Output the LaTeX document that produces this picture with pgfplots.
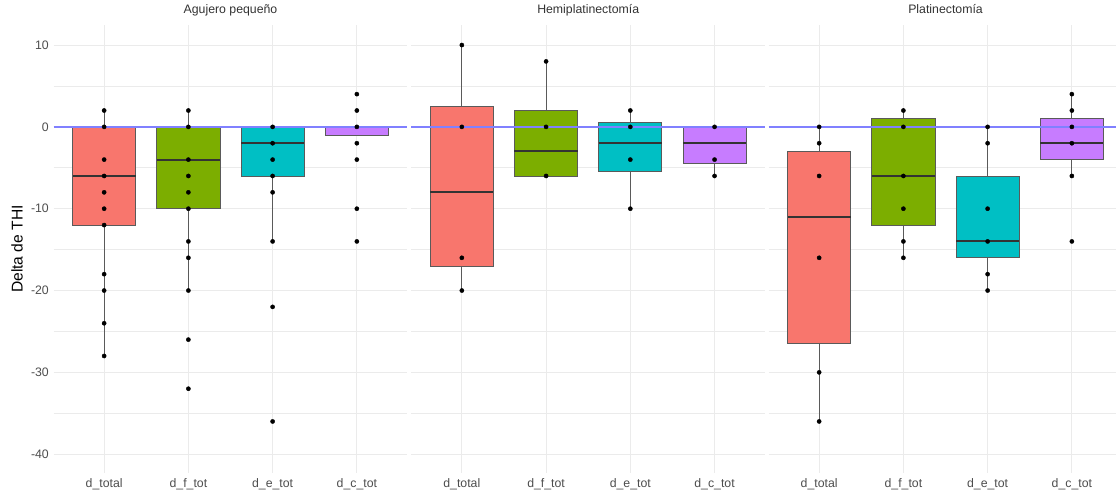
\documentclass[border=0pt]{standalone}
\usepackage{fontspec}
\setmainfont{Liberation Sans}
\usepackage{pgfplots}
\pgfplotsset{compat=1.18}
\usepgfplotslibrary{statistics}
\definecolor{cR}{HTML}{F8766D}
\definecolor{cG}{HTML}{7CAE00}
\definecolor{cC}{HTML}{00BFC4}
\definecolor{cP}{HTML}{C77CFF}
\definecolor{gridc}{HTML}{EBEBEB}
\definecolor{tickc}{HTML}{4D4D4D}
\definecolor{boxline}{HTML}{5A5A5A}
\definecolor{medc}{HTML}{333333}
\definecolor{hl}{HTML}{8080FF}
\newcommand{\bx}[7]{\addplot[boxplot prepared={draw direction=y, draw position=#1, median=#2, upper quartile=#3, lower quartile=#4, upper whisker=#5, lower whisker=#6, box extend=0.75, whisker extend=0, every median/.style={draw=medc, line width=1.9pt}, every whisker/.style={draw=boxline, line width=1pt}}, draw=boxline, fill=#7, line width=0.9pt] coordinates {};}
\pgfplotsset{
  panel/.style={
    scale only axis, width=353.8pt, height=448pt,
    anchor=south west,
    xmin=0.4, xmax=4.6, ymin=-42.3, ymax=12.45,
    xtick={1,2,3,4},
    xticklabels={d\_total,d\_f\_tot,d\_e\_tot,d\_c\_tot},
    ytick={10,0,-10,-20,-30,-40},
    minor ytick={5,-5,-15,-25,-35},
    xmajorgrids, ymajorgrids, yminorgrids,
    major grid style={draw=gridc, line width=0.9pt},
    minor grid style={draw=gridc, line width=0.6pt},
    axis line style={draw=none},
    tick style={draw=none},
    major tick length=0pt, minor tick length=0pt,
    tick label style={font=\fontsize{12.3}{14}\selectfont, text=tickc},
    xticklabel style={anchor=base, yshift=-14pt, inner sep=0pt},
    yticklabel style={anchor=east, xshift=-4.6pt, inner sep=0pt},
    title style={at={(0.5,1)}, anchor=base, yshift=5.5pt, inner sep=0pt, font=\fontsize{12.3}{14}\selectfont, text=medc},
    clip=false,
  },
  pts/.style={only marks, mark=*, mark size=2.1pt, mark options={draw=black, fill=black}},
  zl/.style={draw=hl, line width=1.4pt},
}
\begin{document}
\begin{tikzpicture}
% Panel 1
\begin{axis}[panel, at={(53.6pt,18pt)}, title={Agujero pequeño},
  yticklabels={10,0,-10,-20,-30,-40},
  ylabel={Delta de THI},
  every axis y label/.style={at={(axis description cs:-0.1034,0.5)}, rotate=90, anchor=center, font=\fontsize{15.6}{18}\selectfont, text=black}]
\bx{1}{-6}{0}{-12}{2}{-28}{cR}
\bx{2}{-4}{0}{-10}{2}{-20}{cG}
\bx{3}{-2}{0}{-6}{0}{-14}{cC}
\bx{4}{0}{0}{-1}{0}{-1}{cP}
\addplot[zl] coordinates {(0.4,0) (4.6,0)};
\addplot[pts] coordinates {
(1,2)(1,0)(1,-4)(1,-6)(1,-8)(1,-10)(1,-12)(1,-18)(1,-20)(1,-24)(1,-28)
(2,2)(2,0)(2,-4)(2,-6)(2,-8)(2,-10)(2,-14)(2,-16)(2,-20)(2,-26)(2,-32)
(3,0)(3,-2)(3,-4)(3,-6)(3,-8)(3,-14)(3,-22)(3,-36)
(4,4)(4,2)(4,0)(4,-2)(4,-4)(4,-10)(4,-14)};
\end{axis}
% Panel 2
\begin{axis}[panel, at={(411.3pt,18pt)}, title={Hemiplatinectomía}, yticklabels={}]
\bx{1}{-8}{2.5}{-17}{10}{-20}{cR}
\bx{2}{-3}{2}{-6}{8}{-6}{cG}
\bx{3}{-2}{0.5}{-5.5}{2}{-10}{cC}
\bx{4}{-2}{0}{-4.5}{0}{-6}{cP}
\addplot[zl] coordinates {(0.4,0) (4.6,0)};
\addplot[pts] coordinates {
(1,10)(1,0)(1,-16)(1,-20)
(2,8)(2,0)(2,-6)
(3,2)(3,0)(3,-4)(3,-10)
(4,0)(4,-4)(4,-6)};
\end{axis}
% Panel 3
\begin{axis}[panel, at={(768.6pt,18pt)}, title={Platinectomía}, yticklabels={}]
\bx{1}{-11}{-3}{-26.5}{0}{-36}{cR}
\bx{2}{-6}{1}{-12}{2}{-16}{cG}
\bx{3}{-14}{-6}{-16}{0}{-20}{cC}
\bx{4}{-2}{1}{-4}{4}{-6}{cP}
\addplot[zl] coordinates {(0.4,0) (4.6,0)};
\addplot[pts] coordinates {
(1,0)(1,-2)(1,-6)(1,-16)(1,-30)(1,-36)
(2,2)(2,0)(2,-6)(2,-10)(2,-14)(2,-16)
(3,0)(3,-2)(3,-10)(3,-14)(3,-18)(3,-20)
(4,4)(4,2)(4,0)(4,-2)(4,-6)(4,-14)};
\end{axis}
\pgfresetboundingbox
\path[use as bounding box] (0pt,0pt) rectangle (1116pt,491pt);
\end{tikzpicture}
\end{document}
